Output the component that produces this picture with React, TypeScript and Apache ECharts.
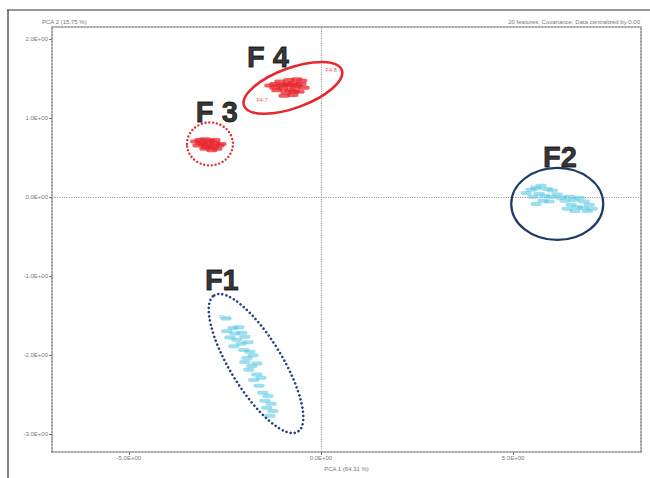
import React, { useEffect, useRef } from "react";
import * as echarts from "echarts";

// PCA scores (PCA 1, PCA 2) per group
const f1Points: number[][] = [
  [-2.6, -1.54], [-2.58, -1.7], [-2.42, -1.66], [-2.27, -1.65], [-2.37, -1.73], [-2.19, -1.72],
  [-2.5, -1.78], [-2.32, -1.81], [-2.11, -1.77], [-2.21, -1.86], [-2.03, -1.84], [-2.4, -1.89],
  [-2.14, -1.94], [-1.98, -1.96], [-2.06, -2.04], [-1.9, -2.01], [-2.11, -2.09], [-1.93, -2.14],
  [-1.8, -2.11], [-2.01, -2.19], [-1.8, -2.25], [-1.88, -2.32], [-1.69, -2.29], [-1.74, -2.39],
  [-1.64, -2.48], [-1.51, -2.52], [-1.59, -2.58], [-1.43, -2.62], [-1.54, -2.67], [-1.38, -2.71],
  [-1.46, -2.77],
];
const f2Points: number[][] = [
  [5.34, 0.09], [5.21, 0.05], [5.47, 0.11], [5.6, 0.14], [5.76, 0.1], [5.89, 0.08], [5.55, 0.04],
  [5.7, 0.01], [5.86, 0.0], [6.02, 0.03], [5.39, 0.0], [5.65, -0.05], [5.47, -0.09], [5.81, -0.06],
  [6.12, -0.01], [6.22, -0.05], [6.33, 0.0], [6.46, -0.04], [6.59, -0.01], [6.72, -0.06],
  [6.38, -0.1], [6.54, -0.13], [6.69, -0.14], [6.85, -0.1], [6.28, -0.15], [6.48, -0.18],
  [6.8, -0.18], [6.93, -0.15],
];
const f3Points: number[][] = [
  [-3.39, 0.7], [-3.28, 0.72], [-3.15, 0.73], [-3.02, 0.71], [-2.89, 0.68], [-2.79, 0.65],
  [-3.2, 0.67], [-3.07, 0.65], [-2.94, 0.63], [-3.33, 0.65], [-3.15, 0.61], [-2.97, 0.59],
  [-2.84, 0.61], [-3.26, 0.68], [-3.05, 0.68], [-2.89, 0.72], [-2.73, 0.67], [-3.1, 0.63],
];
const f4Points: number[][] = [
  [-1.46, 1.41], [-1.33, 1.43], [-1.2, 1.46], [-1.07, 1.42], [-0.96, 1.48], [-0.86, 1.44],
  [-0.76, 1.49], [-0.65, 1.43], [-0.81, 1.38], [-0.94, 1.35], [-1.12, 1.37], [-1.28, 1.35],
  [-1.04, 1.32], [-0.86, 1.29], [-0.7, 1.33], [-0.57, 1.38], [-1.17, 1.41], [-0.91, 1.41],
  [-0.76, 1.41], [-0.99, 1.43], [-1.33, 1.38], [-0.63, 1.47], [-1.09, 1.28], [-0.83, 1.33],
];
// individually legible sample names
const namedSamples: { name: string; value: number[]; group: string }[] = [
  { name: "Rb-1", value: [-2.66, -1.52], group: "F1" },
  { name: "Fb-2", value: [5.45, 0.13], group: "F2" },
  { name: "F4-7", value: [-1.68, 1.22], group: "F4" },
  { name: "F4-8", value: [0.12, 1.61], group: "F4" },
];

// group labels and their positions in score space
const groupNames = ["F1", "F2", "F 3", "F 4"];
const groupLabelPos: number[][] = [[-2.58, -1.05], [6.22, 0.51], [-2.71, 1.08], [-1.38, 1.77]];

// tick values
const xTicks = [-5, 0, 5];
const yTicks = [-3, -2, -1, 0, 1, 2];

const RED = "#e8262e";
const CYAN = "#5cc8e4";
const NAVY = "#1d3b66";

// annotation ellipses: centre in score space, radii in px
const ellipses = [
  { cx: -1.69, cy: -2.11, rx: 80, ry: 26, rot: -58.5, color: "#2a3f86", w: 2.6, dash: [0, 4.2] },
  { cx: 6.15, cy: -0.09, rx: 46, ry: 36, rot: 0, color: NAVY, w: 2.2, dash: null },
  { cx: -2.89, cy: 0.67, rx: 23, ry: 21.5, rot: 0, color: RED, w: 2.4, dash: [0, 3.8] },
  { cx: -0.73, cy: 1.38, rx: 52, ry: 20, rot: 20, color: RED, w: 2.6, dash: null },
];

const fmt = (v: number) => (v < 0 ? "-" : "") + Math.abs(v).toFixed(1) + "E+00";

const pointSeries = (name: string, pts: number[][], color: string, opacity: number) => ({
  type: "scatter",
  name,
  data: pts,
  symbol: "roundRect",
  symbolSize: [11, 4],
  symbolOffset: [5, 0],
  itemStyle: { color, opacity },
  z: 3,
});

export default function App() {
  const ref = useRef<HTMLDivElement>(null);
  useEffect(() => {
    if (!ref.current) return;
    document.body.style.margin = "0";
    const chart = echarts.init(ref.current, null, { renderer: "svg" });
    const axisLineStyle = { color: "#8c8c8c", width: 1.6, type: "dotted" as const };
    const tinyText = { fontSize: 6, color: "#777", fontFamily: "Liberation Sans" };
    const colorOf = (g: string) => (g === "F1" || g === "F2" ? CYAN : RED);
    chart.setOption({
      animation: false,
      backgroundColor: "#fff",
      grid: { left: 52, top: 27, right: 9, bottom: 26, containLabel: false },
      xAxis: [
        {
          type: "value",
          min: -7.0,
          max: 8.33,
          position: "bottom",
          axisLine: { show: true, onZero: false, lineStyle: axisLineStyle },
          axisTick: { show: true, length: 3, customValues: xTicks, lineStyle: { color: "#777" } },
          axisLabel: { show: true, customValues: xTicks, formatter: fmt, margin: 3, ...tinyText },
          splitLine: { show: false },
          name: "PCA 1 (64.31 %)",
          nameLocation: "middle",
          nameGap: 12,
          nameTextStyle: tinyText,
        },
        {
          type: "value",
          min: -7.0,
          max: 8.33,
          position: "top",
          axisLine: { show: true, onZero: false, lineStyle: axisLineStyle },
          axisTick: { show: false },
          axisLabel: { show: false },
          splitLine: { show: false },
        },
      ],
      yAxis: [
        {
          type: "value",
          min: -3.23,
          max: 2.15,
          position: "left",
          axisLine: { show: true, onZero: false, lineStyle: axisLineStyle },
          axisTick: { show: true, length: 3, customValues: yTicks, lineStyle: { color: "#777" } },
          axisLabel: { show: true, customValues: yTicks, formatter: fmt, margin: 4, ...tinyText },
          splitLine: { show: false },
        },
        {
          type: "value",
          min: -3.23,
          max: 2.15,
          position: "right",
          axisLine: { show: true, onZero: false, lineStyle: axisLineStyle },
          axisTick: { show: false },
          axisLabel: { show: false },
          splitLine: { show: false },
        },
      ],
      graphic: [
        { type: "line", shape: { x1: 7, y1: 10, x2: 650, y2: 10 }, style: { stroke: "#333", lineWidth: 1.2 } },
        { type: "line", shape: { x1: 8, y1: 10, x2: 8, y2: 478 }, style: { stroke: "#333", lineWidth: 1.2 } },
        { type: "text", left: 42, top: 19, style: { text: "PCA 2 (15.75 %)", ...tinyText, fill: "#777" } },
        {
          type: "text",
          right: 10,
          top: 19,
          style: { text: "20 features; Covariance; Data centralized by 0.00", ...tinyText, fill: "#777" },
        },
      ],
      series: [
        {
          ...pointSeries("F1", f1Points, CYAN, 0.6),
          markLine: {
            silent: true,
            symbol: "none",
            label: { show: false },
            lineStyle: { color: "#9a9a9a", width: 1.2, type: "dotted" },
            data: [{ xAxis: 0 }, { yAxis: 0 }],
            z: 1,
          },
        },
        pointSeries("F2", f2Points, CYAN, 0.6),
        pointSeries("F3", f3Points, RED, 0.75),
        pointSeries("F4", f4Points, RED, 0.75),
        {
          type: "scatter",
          name: "named",
          symbolSize: 0,
          data: namedSamples.map((s) => ({
            name: s.name,
            value: s.value,
            label: { color: colorOf(s.group) },
          })),
          label: {
            show: true,
            position: "right",
            distance: 0,
            formatter: "{b}",
            fontSize: 5.5,
            fontFamily: "Liberation Sans",
          },
          z: 3,
        },
        {
          type: "custom",
          name: "ellipses",
          clip: false,
          data: ellipses.map((e) => [e.cx, e.cy]),
          renderItem: (params: any, api: any) => {
            const e = ellipses[params.dataIndex];
            const p = api.coord([api.value(0), api.value(1)]);
            return {
              type: "ellipse",
              x: p[0],
              y: p[1],
              rotation: (e.rot * Math.PI) / 180,
              shape: { cx: 0, cy: 0, rx: e.rx, ry: e.ry },
              style: {
                fill: "none",
                stroke: e.color,
                lineWidth: e.w,
                lineDash: e.dash || undefined,
                lineCap: "round",
              },
            };
          },
          z: 4,
        },
        {
          type: "scatter",
          name: "groups",
          symbolSize: 0,
          data: groupNames.map((n, i) => ({ name: n, value: groupLabelPos[i] })),
          label: {
            show: true,
            position: "inside",
            formatter: "{b}",
            fontSize: 29,
            fontWeight: 900,
            color: "#000",
            textBorderColor: "#000",
            textBorderWidth: 0.8,
            fontFamily: "Liberation Sans",
          },
          z: 5,
        },
      ],
    });
    return () => chart.dispose();
  }, []);
  return <div ref={ref} style={{ width: 650, height: 478 }} />;
}
